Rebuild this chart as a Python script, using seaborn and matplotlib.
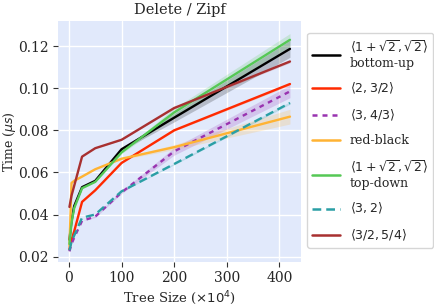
import numpy as np
import pandas as pd
import matplotlib
matplotlib.use("Agg")
import matplotlib.pyplot as plt
import seaborn as sns

# tree sizes (x10^4)
sizes = [1, 5, 10, 25, 50, 100, 200, 420]

bottom_up = [0.028, 0.037, 0.044, 0.053, 0.056, 0.071, 0.086, 0.1187]
bottom_up_err = [0, 0, 0, 0, 0, 0.0006, 0.002, 0.004]
two_three_half = [0.0235, 0.028, 0.032, 0.046, 0.0515, 0.0645, 0.080, 0.102]
two_three_half_err = [0, 0, 0, 0, 0, 0.0002, 0.0004, 0.0006]
three_four_third = [0.0225, 0.026, 0.029, 0.037, 0.039, 0.0505, 0.070, 0.0985]
three_four_third_err = [0, 0, 0, 0, 0.0004, 0.0006, 0.0018, 0.003]
red_black = [0.025, 0.055, 0.056, 0.058, 0.0615, 0.0665, 0.072, 0.0865]
red_black_err = [0, 0, 0, 0, 0, 0.0004, 0.0012, 0.0035]
top_down = [0.026, 0.036, 0.043, 0.0525, 0.0555, 0.0695, 0.0885, 0.123]
top_down_err = [0, 0, 0, 0, 0, 0.0006, 0.002, 0.003]
three_two = [0.023, 0.027, 0.030, 0.0385, 0.040, 0.051, 0.064, 0.093]
three_two_err = [0, 0, 0, 0, 0, 0.0002, 0.0004, 0.0006]
three_half_five_quarter = [0.0436, 0.049, 0.0536, 0.0675, 0.0715, 0.0755, 0.0906, 0.1127]
three_half_five_quarter_err = [0, 0, 0, 0, 0, 0.0002, 0.0004, 0.0006]

series = [
    (r"$\langle 1+\sqrt{2},\sqrt{2}\rangle$" + "\nbottom-up", bottom_up, bottom_up_err, "#000000", "-"),
    (r"$\langle 2,3/2\rangle$", two_three_half, two_three_half_err, "#ff2a00", "-"),
    (r"$\langle 3,4/3\rangle$", three_four_third, three_four_third_err, "#9933b0", (0, (2, 2))),
    ("red-black", red_black, red_black_err, "#ffb333", "-"),
    (r"$\langle 1+\sqrt{2},\sqrt{2}\rangle$" + "\ntop-down", top_down, top_down_err, "#55c855", "-"),
    (r"$\langle 3,2\rangle$", three_two, three_two_err, "#2a9fa5", (0, (3.5, 2))),
    (r"$\langle 3/2,5/4\rangle$", three_half_five_quarter, three_half_five_quarter_err, "#a83030", "-"),
]

sns.set_style("whitegrid", {"axes.facecolor": "#e1e9fb", "grid.color": "white"})
plt.rcParams["font.family"] = ["DejaVu Serif"]
plt.rcParams["mathtext.fontset"] = "dejavusans"

fig = plt.figure(figsize=(4.35, 3.07), dpi=100)
ax = fig.add_axes([0.133, 0.147, 0.559, 0.785])

for label, vals, err, color, ls in series:
    df = pd.DataFrame({"size": sizes, "time": vals})
    sns.lineplot(data=df, x="size", y="time", color=color, linewidth=1.7,
                 linestyle=ls, label=label, ax=ax)
    lo = np.array(vals) - np.array(err)
    hi = np.array(vals) + np.array(err)
    ax.fill_between(sizes, lo, hi, color=color, alpha=0.2, linewidth=0)

for s in ax.spines.values():
    s.set_visible(False)
ax.grid(True, color="white", linewidth=1)
ax.tick_params(axis="both", which="major", length=3.5, width=0.8, color="#333333",
               labelsize=10, pad=3, bottom=True, left=True)
ax.set_xticks([0, 100, 200, 300, 400])
ax.set_yticks([0.02, 0.04, 0.06, 0.08, 0.10, 0.12])
ax.set_ylim(0.0175, 0.132)
ax.set_xlim(-21, 441)
ax.set_title("Delete / Zipf", fontsize=10.5, pad=5)
ax.set_xlabel(r"Tree Size ($\times 10^4$)", fontsize=9.5, labelpad=3)
ax.set_ylabel(r"Time ($\mu s$)", fontsize=9)
ax.yaxis.set_label_coords(-0.163, 0.5)

leg = ax.legend(loc="upper left", bbox_to_anchor=(1.025, 0.95), fontsize=9,
                frameon=True, facecolor="white", edgecolor="#cccccc",
                handlelength=2.2, borderaxespad=0, labelspacing=0.9)
for line in leg.get_lines():
    line.set_linewidth(1.8)

fig.savefig("out.png", dpi=100)
